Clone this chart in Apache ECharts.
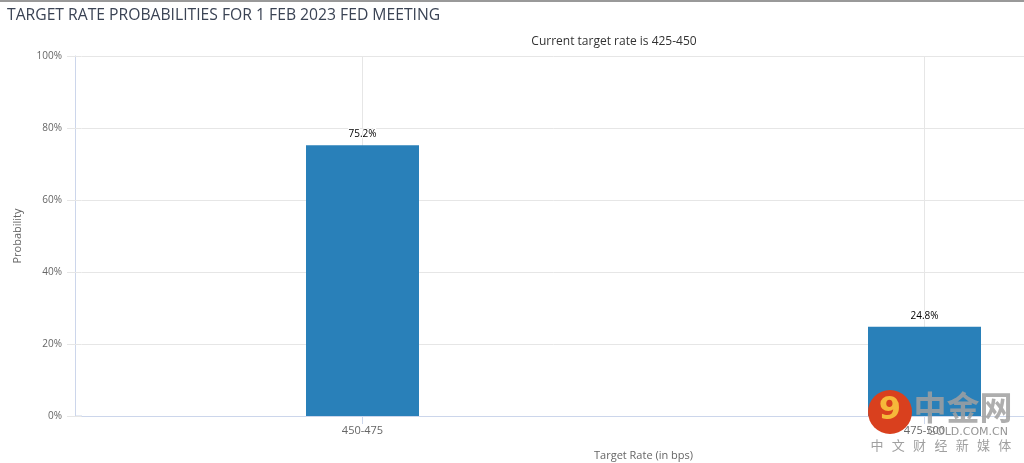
<!DOCTYPE html>
<html><head><meta charset="utf-8">
<script src="https://cdn.jsdelivr.net/npm/echarts@6/dist/echarts.min.js"></script>
<style>html,body{margin:0;padding:0;background:#fff}#c{width:1024px;height:463px}</style>
</head><body><div id="c"></div>
<script>
const categories = ['450-475', '475-500'];
const probabilities = [75.2, 24.8];
const yTicks = [0, 20, 40, 60, 80, 100];

const chart = echarts.init(document.getElementById('c'));
const FONT = '"Open Sans", "DejaVu Sans", sans-serif';
const wmChars = ['中', '文', '财', '经', '新', '媒', '体'];
const wmGraphics = wmChars.map((ch, i) => ({
  type: 'text', z: 100,
  style: { x: 877 + i * 21.3, y: 445, text: ch, fill: 'rgba(150,150,150,0.9)', font: '13px "Noto Sans CJK SC"', align: 'center', verticalAlign: 'middle' }
}));
const yMin = yTicks[0], yMax = yTicks[yTicks.length - 1];
chart.setOption({
  animation: false,
  textStyle: { fontFamily: FONT },
  title: [{
    text: 'TARGET RATE PROBABILITIES FOR 1 FEB 2023 FED MEETING',
    left: 2, top: 3,
    textStyle: { fontSize: 15.7, fontWeight: 'normal', color: '#3a4354', fontFamily: FONT }
  }, {
    text: 'Current target rate is 425-450',
    left: 609, top: 31, textAlign: 'center',
    textStyle: { fontSize: 12, fontWeight: 'normal', color: '#333', fontFamily: FONT }
  }],
  grid: { left: 81.5, right: -181.5, top: 56, bottom: 47, outerBoundsMode: 'none', containLabel: false },
  xAxis: {
    type: 'category',
    data: categories,
    name: 'Target Rate (in bps)',
    nameLocation: 'middle',
    nameGap: 34,
    nameTextStyle: { color: '#666', fontSize: 11 },
    axisLine: { lineStyle: { color: '#ccd6eb', width: 1 } },
    axisTick: { show: true, alignWithLabel: true, length: 8, lineStyle: { color: '#ccd6eb' } },
    axisLabel: { color: '#666', fontSize: 11, margin: 9 },
    splitLine: { show: true, alignWithLabel: true, lineStyle: { color: '#e6e6e6' } }
  },
  yAxis: [{
    type: 'value',
    min: yMin, max: yMax, interval: 20,
    offset: 6.5,
    name: 'Probability',
    nameLocation: 'middle',
    nameGap: 52,
    nameTextStyle: { color: '#666', fontSize: 11 },
    axisLine: { show: true, lineStyle: { color: '#ccd6eb' } },
    axisTick: { show: false },
    axisLabel: { color: '#666', fontSize: 10, margin: 13, formatter: '{value}%' },
    splitLine: { show: true, lineStyle: { color: '#e6e6e6' } }
  }, {
    type: 'value', position: 'left', offset: 0,
    min: yMin, max: yMax, interval: 20,
    axisLine: { show: false },
    axisTick: { show: true, length: 14.5, lineStyle: { color: '#e6e6e6' } },
    axisLabel: { show: false },
    splitLine: { show: false }
  }],
  series: [{
    type: 'bar',
    data: probabilities,
    barWidth: 113,
    itemStyle: { color: '#2980b9' },
    label: {
      show: true, position: 'top', distance: 6,
      formatter: p => p.value.toFixed(1) + '%',
      color: '#000', fontSize: 10, textBorderColor: '#fff', textBorderWidth: 2
    }
  }],
  graphic: [
    { type: 'rect', shape: { x: 0, y: 0, width: 1024, height: 2 }, style: { fill: '#999' } },
    { type: 'rect', shape: { x: 75, y: 415.5, width: 7, height: 1 }, style: { fill: '#ccd6eb' } },
    { type: 'circle', shape: { cx: 890, cy: 412, r: 22 }, style: { fill: '#d9401e' }, z: 100 },
    { type: 'text', style: { x: 890, y: 411, text: '9', fill: '#f6b83a', font: 'bold 32px "DejaVu Sans"', align: 'center', verticalAlign: 'middle' }, z: 101 },
    { type: 'text', style: { x: 963, y: 407, text: '中金网', fill: 'rgba(160,160,160,0.85)', font: 'bold 33px "Noto Sans CJK SC"', align: 'center', verticalAlign: 'middle' }, z: 100 },
    { type: 'text', style: { x: 1008, y: 432, text: 'GOLD.COM.CN', fill: 'rgba(130,130,130,0.85)', font: '11px "DejaVu Sans"', align: 'right', verticalAlign: 'middle' }, z: 100 }
  ].concat(wmGraphics)
});
</script></body></html>
